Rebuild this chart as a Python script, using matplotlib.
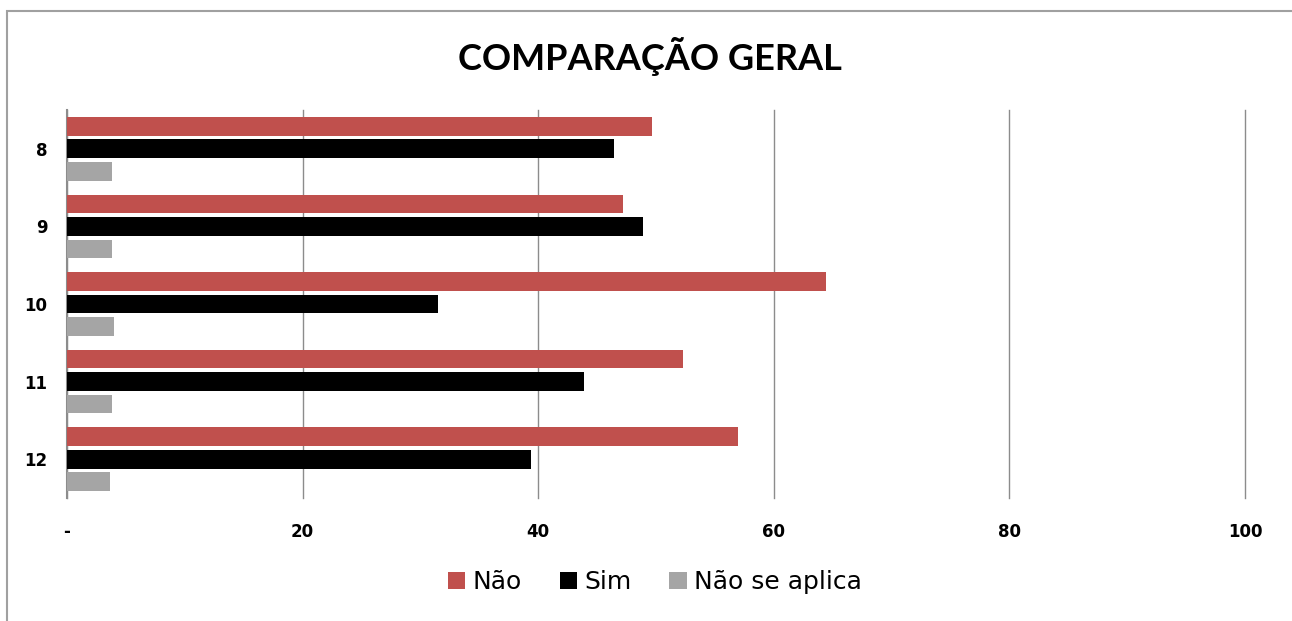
import matplotlib.pyplot as plt
import numpy as np
from matplotlib.patches import Rectangle

categorias = ['8', '9', '10', '11', '12']
nao = [49.7, 47.2, 64.4, 52.3, 57.0]
sim = [46.4, 48.9, 31.5, 43.9, 39.4]
nao_se_aplica = [3.8, 3.8, 4.0, 3.8, 3.65]
xticks = [0, 20, 40, 60, 80, 100]
xtick_labels = ['-', '20', '40', '60', '80', '100']

fig = plt.figure(figsize=(12.92, 6.21), dpi=100)
ax = fig.add_axes([67 / 1292, 1 - 498 / 621, (1245 - 67) / 1292, (498 - 110) / 621])

y = np.arange(len(categorias))
h = 0.24
passo = 0.29
ax.barh(y - passo, nao, height=h, color='#c0504d', label='Não', zorder=3)
ax.barh(y, sim, height=h, color='#000000', label='Sim', zorder=3)
ax.barh(y + passo, nao_se_aplica, height=h, color='#a5a5a5', label='Não se aplica', zorder=3)

ax.set_xlim(0, 100)
ax.set_ylim(len(categorias) - 0.5, -0.5)
ax.set_yticks(y)
ax.set_yticklabels(categorias, fontsize=12, fontweight='bold')
ax.set_xticks(xticks)
ax.set_xticklabels(xtick_labels, fontsize=12, fontweight='bold')
ax.tick_params(axis='y', length=0, pad=14)
ax.tick_params(axis='x', length=0, pad=18)
ax.grid(axis='x', color='#8c8c8c', linewidth=1, zorder=0)
for gl in ax.get_xgridlines():
    gl.set_clip_on(False)
for s in ['top', 'right', 'bottom']:
    ax.spines[s].set_visible(False)
ax.spines['left'].set_color('#8c8c8c')
ax.spines['left'].set_linewidth(1.5)

fig.text(650 / 1292, 1 - 57 / 621, 'COMPARAÇÃO GERAL', ha='center', va='center',
         fontsize=26, fontweight='bold', family=['Lato', 'DejaVu Sans'])

fig.legend(loc='center', bbox_to_anchor=(655 / 1292, 1 - 582 / 621), ncol=3, frameon=False,
           fontsize=18, handlelength=0.7, handleheight=0.7, handletextpad=0.3, columnspacing=1.5)

fig.patches.append(Rectangle((7 / 1292, -0.1), 1.2, 1 - 11 / 621 + 0.1, transform=fig.transFigure,
                             fill=False, edgecolor='#a0a0a0', linewidth=1.5))

fig.savefig('out.png', dpi=100)
